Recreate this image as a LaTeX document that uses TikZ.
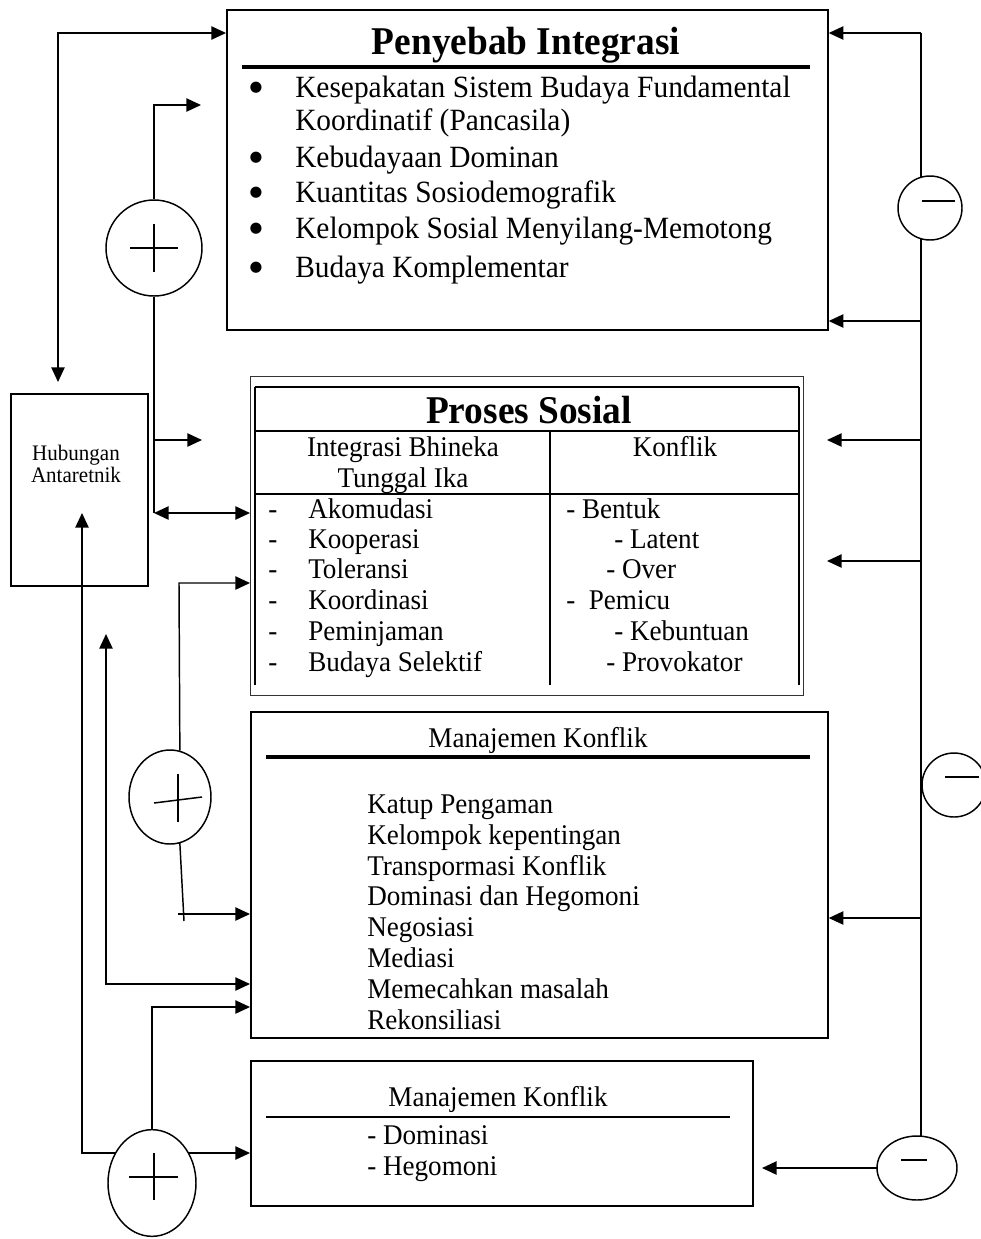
\documentclass[tikz,border=0pt]{standalone}
\usepackage{fontspec}
\setmainfont{Liberation Serif}[FakeStretch=0.95]
\newfontfamily\dvs{DejaVu Sans}
\usetikzlibrary{arrows.meta,calc,shapes.geometric,backgrounds}
\begin{document}
\begin{tikzpicture}[x=0.75pt,y=-0.75pt,
  conn/.style={line width=1.1pt},
  tip/.style={-{Triangle[length=11pt,width=10pt]}},
  tipb/.style={{Triangle[length=11pt,width=10pt]}-},
  dbl/.style={{Triangle[length=11pt,width=10pt]}-{Triangle[length=11pt,width=10pt]}},
  box/.style={draw,line width=1.3pt,rectangle,anchor=north west,inner sep=0pt},
  sign/.style={draw,fill=white,line width=1.1pt,inner sep=0pt},
  big/.style={font=\fontsize{29.5}{33}\selectfont\bfseries,inner sep=0pt},
  lst/.style={font=\fontsize{23.2}{27}\selectfont,inner sep=0pt},
  tbl/.style={font=\fontsize{21.4}{25}\selectfont,inner sep=0pt},
  sm/.style={font=\fontsize{16.6}{19}\selectfont,inner sep=0pt},
  bul/.style={font=\dvs\fontsize{11}{12}\selectfont,inner sep=0pt}]
\useasboundingbox (0,0) rectangle (981,1239);
\begin{scope}[on background layer]
\fill[white] (0,0) rectangle (981,1239);
\end{scope}

% boxes
\node[box,minimum width=450.75pt,minimum height=240pt] (pen) at (226,9) {};
\node[box,minimum width=102.75pt,minimum height=144pt] (hub) at (10,393) {};
\node[box,draw=black!80,line width=1.1pt,minimum width=414.75pt,minimum height=239.25pt] (pro) at (250,376) {};
\node[box,minimum width=432.75pt,minimum height=244.5pt] (man) at (250,711) {};
\node[box,minimum width=376.5pt,minimum height=108.75pt] (bot) at (250,1060) {};

% circles
\node[sign,circle,minimum size=72pt] (p1) at (154,248) {};
\node[sign,ellipse,minimum width=61.5pt,minimum height=70.5pt] (p2) at (170,797) {};
\node[sign,ellipse,minimum width=66pt,minimum height=80pt] (p3) at (152,1183) {};
\node[sign,circle,minimum size=48pt] (m1) at (930,208) {};
\node[sign,circle,minimum size=48pt] (m2) at (954,785) {};
\node[sign,ellipse,minimum width=60pt,minimum height=48pt] (m3) at (917,1168) {};

% signs
\draw[conn] ($(p1)+(-24,0)$) -- ($(p1)+(24,0)$);
\draw[conn] ($(p1)+(0,-24)$) -- ($(p1)+(0,24)$);
\draw[conn] ($(p2)+(8,-23)$) -- ($(p2)+(8,25)$);
\draw[conn] ($(p2)+(-16,6)$) -- ($(p2)+(32,0)$);
\draw[conn] ($(p3)+(-23,-6)$) -- ($(p3)+(26,-6)$);
\draw[conn] ($(p3)+(2,-30)$) -- ($(p3)+(2,17)$);
\draw[conn] ($(m1)+(-8,-7)$) -- ($(m1)+(25,-7)$);
\draw[conn] ($(m2)+(-9,-8)$) -- ($(m2)+(25,-8)$);
\draw[conn] ($(m3)+(-16,-8)$) -- ($(m3)+(10,-8)$);

% Penyebab Integrasi
\node[big,anchor=base] (tpen) at (526,54) {Penyebab Integrasi};
\draw[line width=2.6pt] (242,67) -- (810,67);
\foreach \y/\n in {88/b1,158/b2,193/b3,229/b4,268/b5}
  \node[bul] (\n) at (256,\y) {●};
\node[lst,anchor=base west] (l1) at (295,97) {Kesepakatan Sistem Budaya Fundamental};
\node[lst,anchor=base west] (l2) at (295,130) {Koordinatif (Pancasila)};
\node[lst,anchor=base west] (l3) at (295,167) {Kebudayaan Dominan};
\node[lst,anchor=base west] (l4) at (295,202) {Kuantitas Sosiodemografik};
\node[lst,anchor=base west] (l5) at (295,238) {Kelompok Sosial Menyilang-Memotong};
\node[lst,anchor=base west] (l6) at (295,277) {Budaya Komplementar};

% Hubungan
\node[sm,anchor=base] (h1) at (76,460) {Hubungan};
\node[sm,anchor=base] (h2) at (76,482) {Antaretnik};

% Proses Sosial
\draw[line width=2pt] (255,387) -- (799,387);
\draw[line width=1.5pt] (255,685) -- (255,387);
\draw[line width=1.5pt] (799,685) -- (799,387);
\draw[line width=1.3pt] (255,431) -- (799,431);
\draw[line width=1.3pt] (255,494) -- (799,494);
\draw[line width=1.3pt] (550,431) -- (550,685);
\node[big,anchor=base] (tpro) at (529,423) {Proses Sosial};
\node[tbl,anchor=base] (th1) at (403,456) {Integrasi Bhineka};
\node[tbl,anchor=base] (th2) at (403,487) {Tunggal Ika};
\node[tbl,anchor=base] (th3) at (675,456) {Konflik};
\foreach \y/\t/\n in {518/Akomudasi/k1,548/Kooperasi/k2,578/Toleransi/k3,609/Koordinasi/k4,640/Peminjaman/k5,671/Budaya Selektif/k6}{
  \node[tbl,anchor=base] (d\n) at (273,\y) {-};
  \node[tbl,anchor=base west] (\n) at (308,\y) {\t};
}
\node[tbl,anchor=base west] (r1) at (566,518) {- Bentuk};
\node[tbl,anchor=base west] (r2) at (614,548) {- Latent};
\node[tbl,anchor=base west] (r3) at (606,578) {- Over};
\node[tbl,anchor=base west] (r4) at (566,609) {-\ \ Pemicu};
\node[tbl,anchor=base west] (r5) at (614,640) {- Kebuntuan};
\node[tbl,anchor=base west] (r6) at (606,671) {- Provokator};

% Manajemen Konflik
\node[tbl,anchor=base] (tman) at (538,747) {Manajemen Konflik};
\draw[line width=2.4pt] (266,757) -- (810,757);
\foreach \y/\t/\n in {813/Katup Pengaman/n1,844/Kelompok kepentingan/n2,875/Transpormasi Konflik/n3,905/Dominasi dan Hegomoni/n4,936/Negosiasi/n5,967/Mediasi/n6,998/Memecahkan masalah/n7,1029/Rekonsiliasi/n8}
  \node[tbl,anchor=base west] (\n) at (367,\y) {\t};

% bottom box
\node[tbl,anchor=base] (tbot) at (498,1106) {Manajemen Konflik};
\draw[line width=1.5pt] (266,1117) -- (730,1117);
\node[tbl,anchor=base west] (o1) at (367,1144) {- Dominasi};
\node[tbl,anchor=base west] (o2) at (367,1175) {- Hegomoni};

% connectors
\coordinate (c1) at (58,33);
\coordinate (hubtip) at (58,382);
\coordinate (c2) at (154,105);
\coordinate (a2) at (201,105);
\coordinate (c3) at (154,513);
\coordinate (c4) at (154,440);
\coordinate (a4) at (202,440);
\coordinate (c5) at (179,583);
\coordinate (c6) at (184,921);
\coordinate (c7) at (178,914);
\coordinate (a8) at (106,634);
\coordinate (c8) at (106,984);
\coordinate (a9) at (82,513);
\coordinate (c9) at (82,1153);
\coordinate (c10) at (152,1007);
\coordinate (c11) at (152,1153);
\coordinate (r0) at (921,33);
\coordinate (rq1) at (921,321);
\coordinate (rq2) at (921,440);
\coordinate (rq3) at (921,561);
\coordinate (rq4) at (921,918);
\coordinate (rend) at (921,1160);
\coordinate (ar2) at (827,440);
\coordinate (ar3) at (827,561);
\coordinate (ar5) at (762,1168);

\begin{scope}[on background layer]
\draw[conn,dbl] (hubtip) -- (c1) -- (pen.west |- c1);
\draw[conn,tip] (p1.north) -- (c2) -- (a2);
\draw[conn] (p1.south) -- (c3);
\draw[conn,dbl] (c3) -- (pro.west |- c3);
\draw[conn,tip] (c4) -- (a4);
\draw[conn,tip] (p2.78) -- (c5) -- (pro.west |- c5);
\draw[conn] (p2.center) -- (p2.-78) -- (c6);
\draw[conn,tip] (c7) -- (man.west |- c7);
\draw[conn,dbl] (a8) -- (c8) -- (man.west |- c8);
\draw[conn,tipb] (a9) -- (c9) -- (c9 -| p3.center);
\draw[conn,tip] (p3.north) -- (c10) -- (man.west |- c10);
\draw[conn,tip] (c11) -- (bot.west |- c11);
\draw[conn] (r0) -- (rend);
\draw[conn,tip] (r0) -- (pen.east |- r0);
\draw[conn,tip] (rq1) -- (pen.east |- rq1);
\draw[conn,tip] (rq2) -- (ar2);
\draw[conn,tip] (rq3) -- (ar3);
\draw[conn,tip] (rq4) -- (man.east |- rq4);
\draw[conn,tip] (m3.center) -- (ar5);
\end{scope}
\end{tikzpicture}
\end{document}
